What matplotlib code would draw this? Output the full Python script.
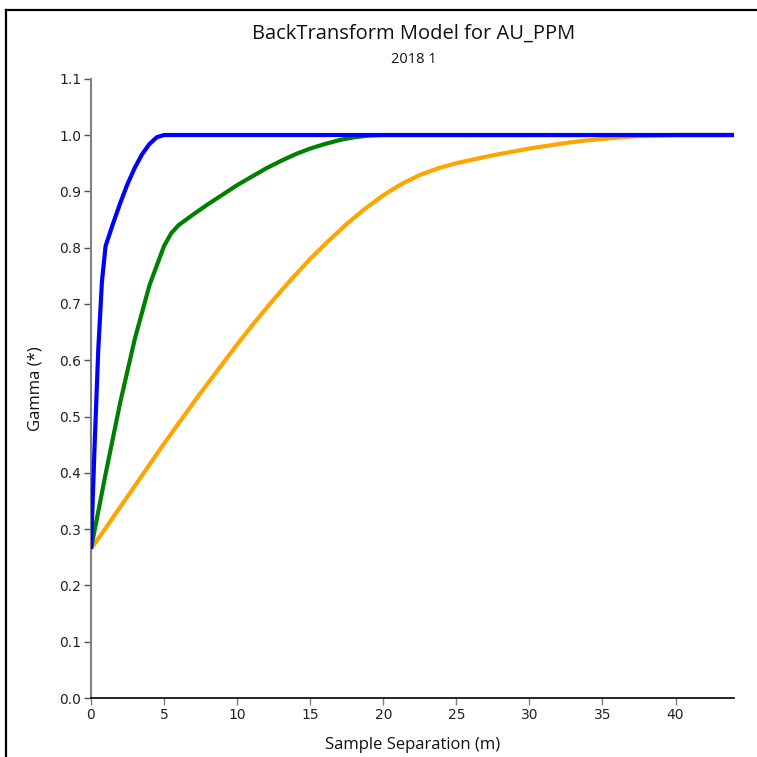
import matplotlib
matplotlib.use("Agg")
import matplotlib.pyplot as plt
from matplotlib.lines import Line2D

# --- data ---
blue_x = [0, 0.25, 0.5, 0.75, 1.0, 1.5, 2.0, 2.5, 3.0, 3.5, 4.0, 4.5, 5.0, 44]
blue_y = [0.265, 0.45, 0.62, 0.74, 0.803, 0.842, 0.879, 0.913, 0.942, 0.966, 0.984, 0.996, 1.0, 1.0]

green_x = [0, 1, 2, 3, 4, 5, 5.5, 6, 7, 8, 9, 10, 11, 12, 13, 14, 15, 16, 17, 18, 19, 20, 44]
green_y = [0.265, 0.398, 0.525, 0.638, 0.733, 0.803, 0.826, 0.840, 0.859, 0.877, 0.894, 0.911,
           0.926, 0.941, 0.954, 0.966, 0.976, 0.984, 0.991, 0.996, 0.999, 1.0, 1.0]

orange_x = [0, 1.25, 2.5, 3.75, 5, 6.25, 7.5, 8.75, 10, 11.25, 12.5, 13.75, 15, 16.25, 17.5,
            18.75, 20, 21.25, 22.5, 23.75, 25, 26.25, 27.5, 28.75, 30, 31.25, 32.5, 33.75,
            35, 36.25, 37.5, 38.75, 40, 44]
orange_y = [0.265, 0.311, 0.358, 0.405, 0.452, 0.497, 0.542, 0.585, 0.628, 0.669, 0.708,
            0.745, 0.780, 0.812, 0.842, 0.869, 0.893, 0.913, 0.929, 0.941, 0.950, 0.957,
            0.964, 0.970, 0.976, 0.981, 0.986, 0.990, 0.993, 0.996, 0.998, 0.999, 1.0, 1.0]

series = [(orange_x, orange_y, "#FFA500"),
          (green_x, green_y, "#008000"),
          (blue_x, blue_y, "#0000FF")]

title = "BackTransform Model for AU_PPM"
subtitle = "2018 1"
xlabel = "Sample Separation (m)"
ylabel = "Gamma (*)"
xticks = [0, 5, 10, 15, 20, 25, 30, 35, 40]
yticks = [0.0, 0.1, 0.2, 0.3, 0.4, 0.5, 0.6, 0.7, 0.8, 0.9, 1.0, 1.1]

fig = plt.figure(figsize=(7.57, 7.57), dpi=100)
ax = fig.add_axes([0.1202, 0.0779, 0.8494, 0.8181])

for xs, ys, c in series:
    ax.plot(xs, ys, color=c, lw=3.0, solid_joinstyle="round", solid_capstyle="butt", zorder=3)

ax.set_xlim(0, 44)
ax.set_ylim(0, 1.1)
ax.set_xticks(xticks)
ax.set_xticklabels([str(t) for t in xticks])
ax.set_yticks(yticks)
ax.set_yticklabels([f"{t:.1f}" for t in yticks])
ax.tick_params(axis="both", labelsize=10, length=5, width=1, direction="out", pad=2,
               labelcolor="#222222")
ax.tick_params(axis="x", colors="#808080", labelcolor="#222222")
ax.tick_params(axis="y", colors="#555555", labelcolor="#222222")
for lab in ax.get_xticklabels() + ax.get_yticklabels():
    lab.set_family("DejaVu Sans")

ax.spines["top"].set_visible(False)
ax.spines["right"].set_visible(False)
ax.spines["left"].set_color("#808080")
ax.spines["left"].set_linewidth(1.5)
ax.spines["bottom"].set_color("black")
ax.spines["bottom"].set_linewidth(1.2)

ax.set_xlabel(xlabel, fontsize=12, family="Open Sans", color="#111111", labelpad=11)
ax.set_ylabel(ylabel, fontsize=12, family="Open Sans", color="#111111", labelpad=11)

fig.text(0.546, 0.955, title, ha="center", va="center", fontsize=14.5,
         family="Open Sans", color="#111111")
fig.text(0.546, 0.922, subtitle, ha="center", va="center", fontsize=10.5,
         family="Open Sans", color="#111111")

# outer frame (left and top edges)
fig.add_artist(Line2D([0.0085, 0.0085], [-0.01, 0.9865], transform=fig.transFigure,
                      color="black", lw=1.6))
fig.add_artist(Line2D([0.0085, 1.01], [0.9865, 0.9865], transform=fig.transFigure,
                      color="black", lw=1.6))

fig.savefig("out.png", dpi=100, facecolor="white")
